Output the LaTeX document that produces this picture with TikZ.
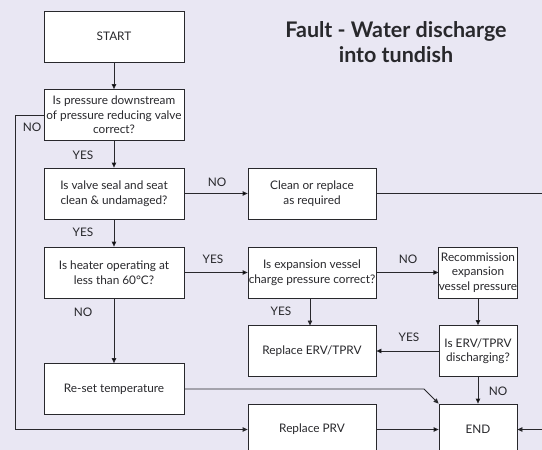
\documentclass[tikz,border=0pt]{standalone}
\usepackage{fontspec}
\setmainfont{Lato}
\usetikzlibrary{arrows.meta}

\definecolor{bgcol}{RGB}{233,231,243}
\definecolor{inkcol}{RGB}{40,40,44}

\tikzset{
	box/.style={draw=inkcol,fill=white,line width=0.8pt,inner sep=0pt,
		minimum height=51pt,align=center,text=inkcol,
		font=\fontsize{11.8}{14.5}\selectfont},
	wide/.style={box,minimum width=140pt},
	mid/.style={box,minimum width=128pt},
	small/.style={box,minimum width=78pt},
	lbl/.style={text=inkcol,font=\fontsize{11.8}{13}\selectfont},
	conn/.style={draw=inkcol,line width=0.8pt,-{Triangle[length=5pt,width=4.5pt]}}
}

\begin{document}
\begin{tikzpicture}[x=1pt,y=-1pt]
	\fill[bgcol] (0,0) rectangle (542,450);
	\useasboundingbox (0,0) rectangle (542,450);
	\clip (0,0) rectangle (542,450);
	%\draw[help lines,step=50] (0,0) grid (542,450);

	\node[text=inkcol,align=center,font=\fontsize{21.5}{25}\bfseries\selectfont] (title) at (396,42) {Fault - Water discharge\\into tundish};

	\node[wide] (start) at (114,36.5) {START};
	\node[wide] (qprv) at (114,115) {Is pressure downstream\\of pressure reducing valve\\correct?};
	\node[wide] (qseal) at (114,193.5) {Is valve seal and seat\\clean \& undamaged?};
	\node[wide] (qheat) at (114,272.5) {Is heater operating at\\less than 60°C?};
	\node[wide] (reset) at (114,389) {Re-set temperature};

	\node[mid] (clean) at (312,193.5) {Clean or replace\\as required};
	\node[mid] (qexp) at (312,272.5) {Is expansion vessel\\charge pressure correct?};
	\node[mid] (reperv) at (312,351) {Replace ERV/TPRV};
	\node[mid] (repprv) at (312,429.5) {Replace PRV};

	\node[small] (recom) at (478,272.5) {Recommission\\expansion\\vessel pressure};
	\node[small] (qerv) at (478,351) {Is ERV/TPRV\\discharging?};
	\node[small] (end) at (478,429.5) {END};

	\coordinate (nleft) at (15,115);
	\coordinate (nbot) at (15,429.5);
	\coordinate (rbend) at (424,389);
	\coordinate (rside) at (560,193.5);
	\coordinate (expout) at (310,298);
	\coordinate (ervin) at (310,325.5);

	\path[conn] (start) edge (qprv);
	\path[conn] (qprv) edge (qseal);
	\path[conn] (qseal) edge (qheat);
	\path[conn] (qheat) edge (reset);
	\path[conn] (qseal) edge (clean);
	\path[conn] (qheat) edge (qexp);
	\path[conn] (qexp) edge (recom);
	\path[conn] (recom) edge (qerv);
	\path[conn] (qerv) edge (reperv);
	\path[conn] (qerv) edge (end);
	\path[conn] (repprv) edge (end);

	\draw[conn] (expout) -- (ervin);
	\draw[conn] (qprv.west) -- (nleft) -- (nbot) -- (repprv.west);
	\draw[conn] (reset.east) -- (rbend) -- (end.north west);
	\draw[conn] (clean.east) -- (rside) |- (end.east);

	\node[lbl] (l1) at (32,127) {NO};
	\node[lbl] (l2) at (83,155) {YES};
	\node[lbl] (l3) at (217,182) {NO};
	\node[lbl] (l4) at (83,232) {YES};
	\node[lbl] (l5) at (213,259) {YES};
	\node[lbl] (l6) at (83,312) {NO};
	\node[lbl] (l7) at (281,311) {YES};
	\node[lbl] (l8) at (408,259) {NO};
	\node[lbl] (l9) at (409,337) {YES};
	\node[lbl] (l10) at (498,391) {NO};
\end{tikzpicture}
\end{document}
